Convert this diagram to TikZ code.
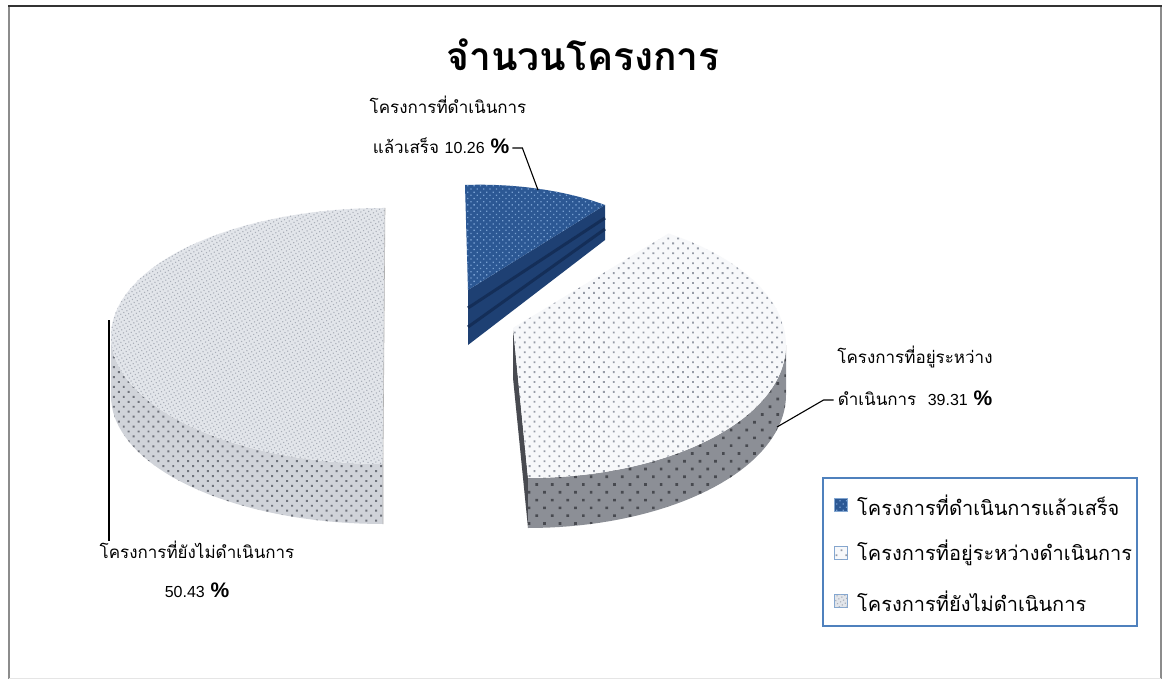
\documentclass[tikz,border=0pt]{standalone}
\usepackage{fontspec}
\newfontfamily\thai[Script=Thai]{Loma}
\newfontfamily\lib{Liberation Sans}
\usetikzlibrary{patterns.meta}
\definecolor{bluetop}{RGB}{44,88,148}
\definecolor{blueside}{RGB}{30,64,115}
\definecolor{bluestripe}{RGB}{20,46,88}
\definecolor{bluedot}{RGB}{120,160,210}
\definecolor{midtop}{RGB}{247,248,250}
\definecolor{middot}{RGB}{150,155,166}
\definecolor{midside}{RGB}{140,143,150}
\definecolor{midmark}{RGB}{72,74,80}
\definecolor{bigtop}{RGB}{226,229,234}
\definecolor{bigdot}{RGB}{170,175,185}
\definecolor{bigside}{RGB}{208,211,217}
\definecolor{bigsidedot}{RGB}{110,114,122}
\definecolor{legblue}{RGB}{79,129,189}
\definecolor{framegray}{RGB}{140,140,140}
\tikzset{
  topblue/.style={fill=bluetop, postaction={pattern={Dots[radius=0.9pt,distance=4.5pt,angle=45]}, pattern color=bluedot}},
  sideblue/.style={fill=blueside},
  topmid/.style={fill=midtop, postaction={pattern={Dots[radius=1.3pt,distance=7pt,angle=45]}, pattern color=middot}},
  sidemid/.style={fill=midside, postaction={pattern={Dots[radius=1.9pt,distance=11pt,angle=45]}, pattern color=midmark}},
  topbig/.style={fill=bigtop, postaction={pattern={Dots[radius=0.8pt,distance=3.5pt,angle=30]}, pattern color=bigdot}},
  sidebig/.style={fill=bigside, postaction={pattern={Dots[radius=1.4pt,distance=7pt,angle=45]}, pattern color=bigsidedot}},
  lbl/.style={inner sep=0pt, font=\thai\fontsize{17}{20}\selectfont},
  legtxt/.style={inner sep=0pt, anchor=west, font=\thai\fontsize{20}{24}\selectfont},
  legsq/.style={draw=legblue!70, line width=0.6pt, minimum width=13pt, minimum height=13pt, inner sep=0pt},
  leader/.style={draw=black, line width=1.1pt},
}
\newcommand{\pct}{{\lib\bfseries\fontsize{21}{24}\selectfont\%}}
\newcommand{\num}[1]{{\lib\fontsize{16}{20}\selectfont #1}}
\begin{document}
\begin{tikzpicture}[x=1pt,y=-1pt]
\useasboundingbox (0,0) rectangle (1165,679);
\fill[white] (0,0) rectangle (1165,679);
% frame
\draw[framegray, line width=2pt] (9,6) -- (9,679);
\draw[framegray, line width=2pt] (1161,6) -- (1161,679);
\draw[black!80, line width=2pt] (8,6) -- (1162,6);
\draw[black!10, line width=0.8pt] (9,678) -- (1161,678);

% title
\node[inner sep=0pt, font=\thai\bfseries\fontsize{39}{44}\selectfont] (title) at (583,55) {จำนวนโครงการ};

% big slice (50.43%)
\path[sidebig] plot[domain=180:270, samples=40] ({383+272*cos(\x)},{336-128*sin(\x)})
  -- plot[domain=270:180, samples=40] ({383+272*cos(\x)},{396-128*sin(\x)}) -- cycle;
\path[topbig] (385,208) -- plot[domain=90:270, samples=60] ({383+272*cos(\x)},{336-128*sin(\x)}) -- cycle;
\draw[gray!60, line width=0.6pt] (385,208) -- (383,464) -- (383,524);

% middle slice (39.31%)
\path[fill=midmark] (513,328) -- (528,478) -- (528,528) -- (513,378) -- cycle;
\path[sidemid] plot[domain=0:-90, samples=40] ({528+258*cos(\x)},{345-133*sin(\x)})
  -- plot[domain=-90:0, samples=40] ({528+258*cos(\x)},{395-133*sin(\x)}) -- cycle;
\path[topmid] (513,328) -- plot[domain=57:-90, samples=60] ({528+258*cos(\x)},{345-133*sin(\x)}) -- cycle;

% blue slice (10.26%)
\path[sideblue] (605,205) -- (468,290) -- (468,345) -- (605,240) -- cycle;
\draw[bluestripe, line width=3pt] (468,308) -- (605,218);
\draw[bluestripe, line width=3pt] (468,327) -- (605,229);
\path[topblue] (468,290) -- (465,185) .. controls (520,183) and (570,192) .. (605,205) -- cycle;

% labels
\node[lbl] (n1a) at (448,105) {โครงการที่ดำเนินการ};
\node[lbl] (n1b) at (441,146) {แล้วเสร็จ \num{10.26} \pct};
\node[lbl] (n2a) at (915,357) {โครงการที่อยู่ระหว่าง};
\node[lbl] (n2b) at (915,398) {ดำเนินการ \ \num{39.31} \pct};
\node[lbl] (n3a) at (197,550) {โครงการที่ยังไม่ดำเนินการ};
\node[lbl] (n3b) at (197,590) {\num{50.43} \pct};

% leaders
\coordinate (p1) at (538,190);
\coordinate (p2) at (777,427);
\coordinate (p3) at (109,320);
\draw[leader] (n1b.east) ++(3,2) -- ++(10,0) -- (p1);
\draw[leader] (n2b.west) ++(-4,2) -- ++(-10,0) -- (p2);
\draw[leader] (p3) -- (p3 |- n3a.north);

% legend
\node[draw=legblue, line width=1.5pt, minimum width=314pt, minimum height=148pt, inner sep=0pt] (legend) at (980,552) {};
\node[legsq, topblue] (s1) at (841,505) {};
\node[legsq, topmid] (s2) at (841,553) {};
\node[legsq, topbig] (s3) at (841,601) {};
\node[legtxt] (t1) at (857,505) {โครงการที่ดำเนินการแล้วเสร็จ};
\node[legtxt] (t2) at (857,553) {โครงการที่อยู่ระหว่างดำเนินการ};
\node[legtxt] (t3) at (857,601) {โครงการที่ยังไม่ดำเนินการ};
\end{tikzpicture}
\end{document}
